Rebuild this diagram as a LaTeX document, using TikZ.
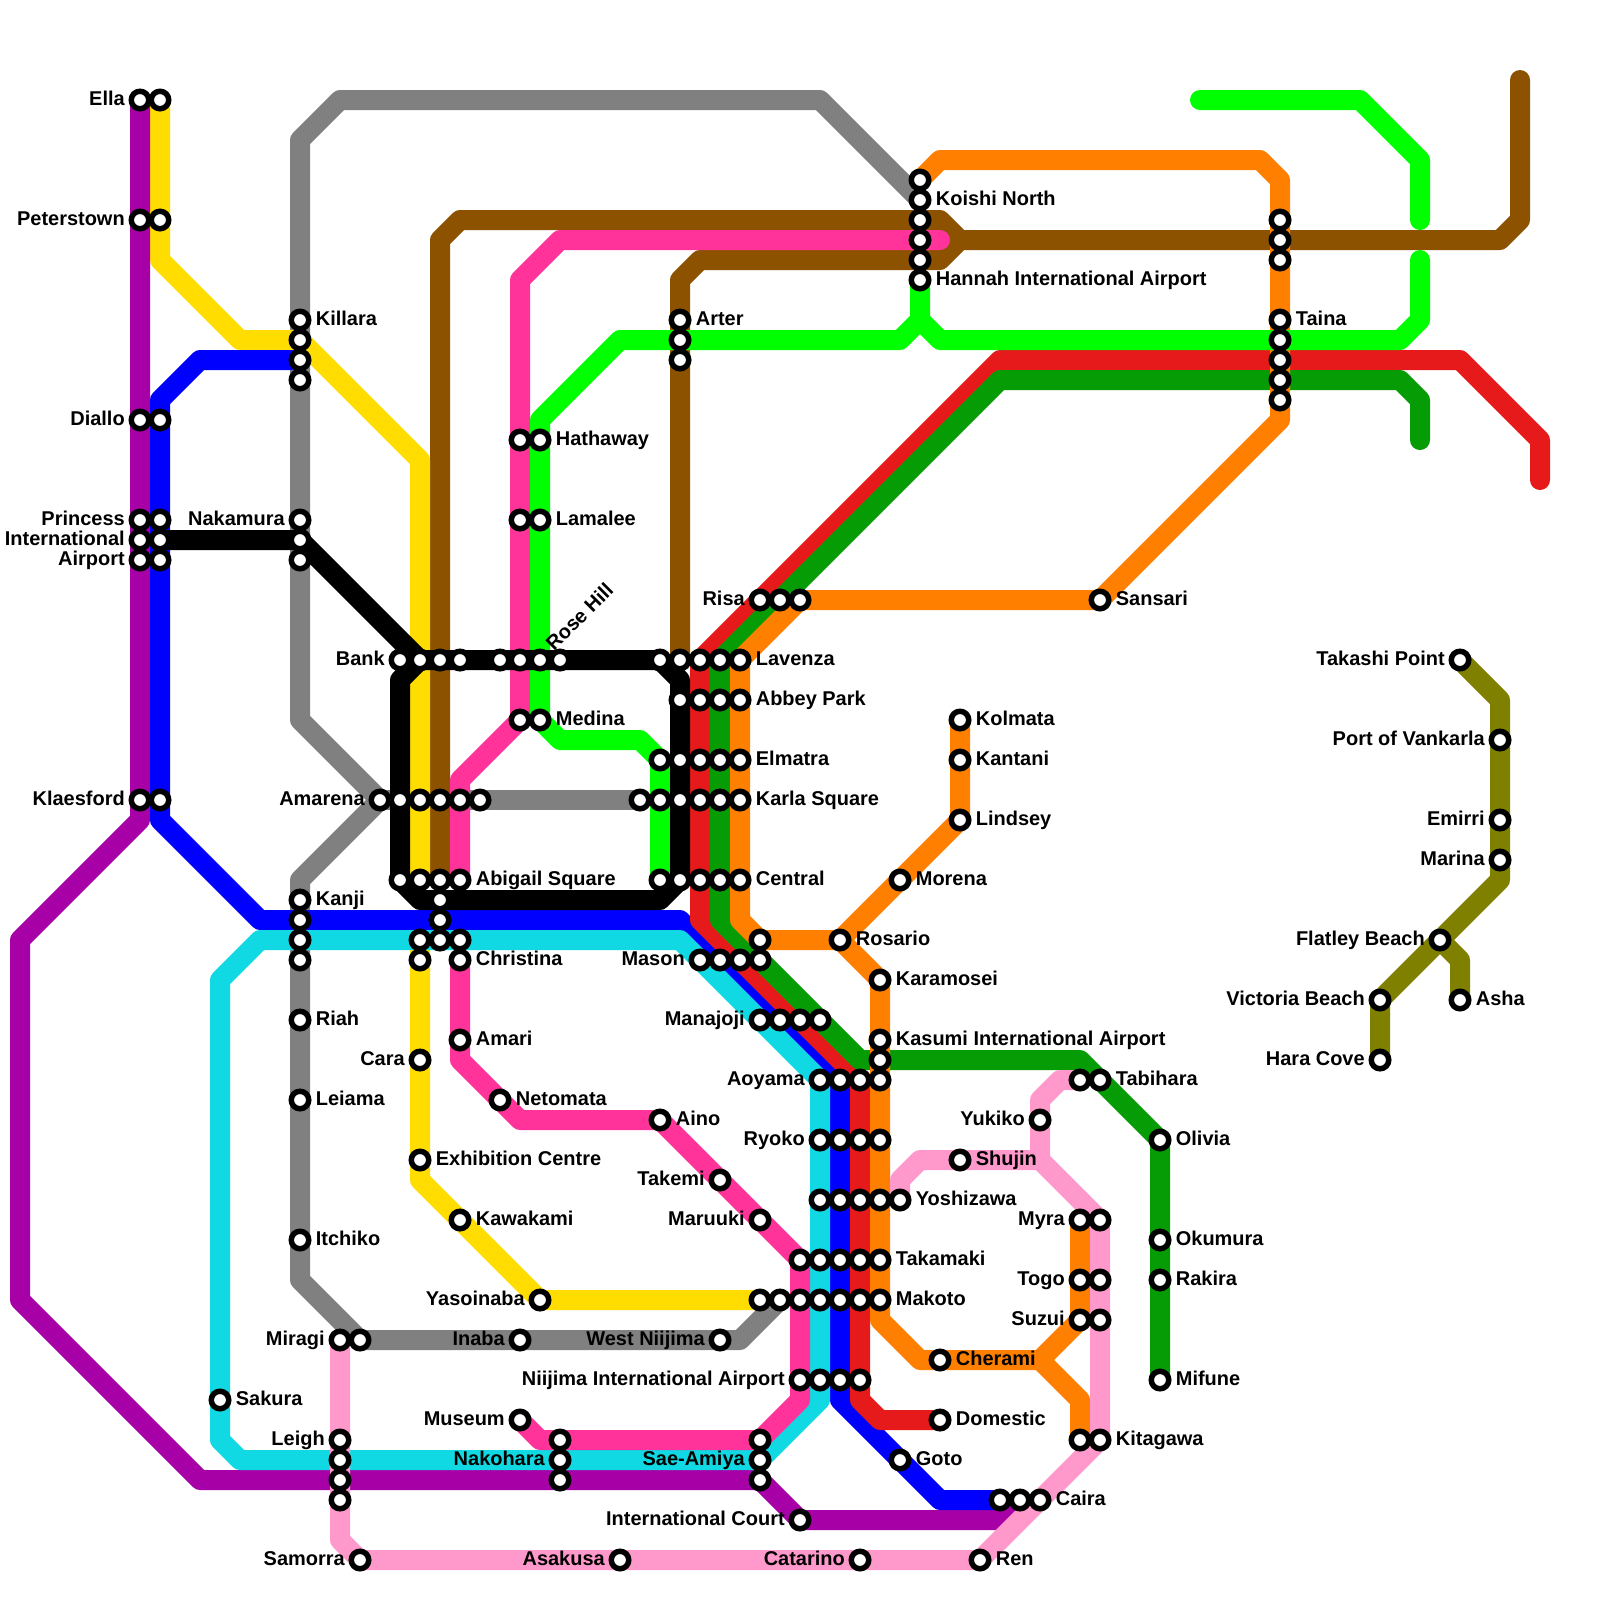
\documentclass[tikz,border=0pt]{standalone}
\usepackage{fontspec}
\setmainfont{Liberation Sans}
\usetikzlibrary{backgrounds}
\definecolor{cPurple}{HTML}{A600A6}
\definecolor{cYellow}{HTML}{FFDD00}
\definecolor{cBlue}{HTML}{0000FF}
\definecolor{cGrey}{HTML}{808080}
\definecolor{cCyan}{HTML}{11D9E3}
\definecolor{cMagenta}{HTML}{FF3399}
\definecolor{cBrown}{HTML}{8C5200}
\definecolor{cGreen}{HTML}{00FF00}
\definecolor{cOrange}{HTML}{FF8000}
\definecolor{cRed}{HTML}{E61A1A}
\definecolor{cDark}{HTML}{059C05}
\definecolor{cLight}{HTML}{FF99CC}
\definecolor{cOlive}{HTML}{808000}
\tikzset{
  metro/.style={line width=0.5cm,line cap=round,line join=round},
  stn/.style={circle,draw=black,fill=white,line width=3.9pt,inner sep=0pt,minimum size=12.45pt},
  lab/.style={font=\fontsize{14.2pt}{16pt}\selectfont\bfseries,inner sep=0pt,text=black}
}
\begin{document}
\begin{tikzpicture}[x=0.5cm,y=-0.5cm]
\useasboundingbox (0,0) rectangle (80,80);
% bend points and free ends
\foreach \x/\y in {7/41,1/47,1/65,10/74,50/76,8/13,12/17,15/17,21/23,21/59,10/18,8/20,8/41,13/46,34/46,42/54,42/70,47/75,
 41/5,17/5,15/7,15/36,19/40,15/44,15/64,18/67,37/67,34/47,13/47,11/49,11/72,12/73,38/73,41/70,41/54,
 23/39,23/53,26/56,33/56,40/63,40/70,27/72,38/72,26/36,26/14,28/12,47/12,22/44,22/12,23/11,47/11,48/12,75/12,76/11,76/4,47/13,35/13,34/14,34/33,
 21/33,33/45,21/45,34/44,34/34,20/34,20/44,20/32,15/27,60/5,68/5,71/8,71/11,71/13,71/16,70/17,47/17,46/16,45/17,31/17,27/21,28/37,32/37,33/38,
 47/8,63/8,64/9,64/21,40/30,37/33,37/46,38/47,44/49,44/66,46/68,52/68,54/66,54/70,77/24,77/22,73/18,50/18,35/33,35/46,43/54,43/70,44/71,
 71/22,71/20,70/19,50/19,36/33,36/46,43/53,54/53,58/57,17/77,18/78,49/78,55/72,52/58,46/58,45/59,52/55,53/54,17/67,
 75/35,75/44,73/48}
  {\coordinate (c\x-\y) at (\x,\y);}
% stations with no label
\foreach \x/\y in {8/5,8/11,8/21,8/26,8/27,8/28,8/40,15/17,15/18,15/19,15/27,15/28,15/46,15/47,15/48,17/73,17/74,17/75,18/67,
 20/40,20/44,21/33,21/40,21/44,21/47,21/48,22/33,22/40,22/44,22/45,22/46,22/47,23/33,23/40,23/47,24/40,25/33,26/22,26/26,26/33,26/36,28/33,28/72,28/74,
 32/40,33/33,33/38,33/40,33/44,34/17,34/18,34/33,34/35,34/38,34/40,34/44,35/33,35/35,35/38,35/40,35/44,36/33,36/35,36/38,36/40,36/44,36/48,37/48,
 38/47,38/48,38/65,38/72,38/74,39/30,39/51,39/65,40/30,40/51,40/63,40/65,41/51,41/60,41/63,41/65,41/69,42/54,42/57,42/60,42/63,42/65,42/69,
 43/54,43/57,43/60,43/63,43/65,43/69,44/53,44/54,44/57,44/60,46/9,46/11,46/12,46/13,50/75,51/75,54/54,54/72,55/61,55/64,55/66,
 64/11,64/12,64/13,64/17,64/18,64/19,64/20}
  {\node[stn] (s\x-\y) at (\x,\y) {};}
% stations labelled on the left
\foreach \x/\y/\t in {7/5/Ella,7/11/Peterstown,7/21/Diallo,7/26/Princess,7/27/International,7/28/Airport,7/40/Klaesford,15/26/Nakamura,17/67/Miragi,17/72/Leigh,18/78/Samorra,
 19/40/Amarena,20/33/Bank,21/53/Cara,26/67/Inaba,26/71/Museum,27/65/Yasoinaba,28/73/Nakohara,31/78/Asakusa,35/48/Mason,36/59/Takemi,36/67/West Niijima,
 38/30/Risa,38/51/Manajoji,38/61/Maruuki,38/73/Sae-Amiya,40/69/Niijima International Airport,40/76/International Court,41/54/Aoyama,41/57/Ryoko,43/78/Catarino,
 52/56/Yukiko,54/61/Myra,54/64/Togo,54/66/Suzui,69/50/Victoria Beach,69/53/Hara Cove,72/47/Flatley Beach,73/33/Takashi Point,75/37/Port of Vankarla,75/41/Emirri,75/43/Marina}
  {\node[stn] (s\x-\y) at (\x,\y) {};
   \node[lab,anchor=base east] (t\x-\y) at (\x-0.75,\y+0.27) {\t};}
% stations labelled on the right
\foreach \x/\y/\t in {15/16/Killara,15/45/Kanji,15/51/Riah,15/55/Leiama,15/62/Itchiko,11/70/Sakura,21/58/Exhibition Centre,23/44/Abigail Square,23/48/Christina,23/52/Amari,23/61/Kawakami,
 25/55/Netomata,27/22/Hathaway,27/26/Lamalee,27/36/Medina,33/56/Aino,34/16/Arter,37/33/Lavenza,37/35/Abbey Park,37/38/Elmatra,37/40/Karla Square,37/44/Central,42/47/Rosario,
 44/49/Karamosei,44/52/Kasumi International Airport,44/63/Takamaki,44/65/Makoto,45/44/Morena,45/60/Yoshizawa,45/73/Goto,46/10/Koishi North,46/14/Hannah International Airport,
 47/68/Cherami,47/71/Domestic,48/36/Kolmata,48/38/Kantani,48/41/Lindsey,48/58/Shujin,49/78/Ren,52/75/Caira,55/30/Sansari,55/54/Tabihara,55/72/Kitagawa,58/57/Olivia,58/62/Okumura,58/64/Rakira,58/69/Mifune,
 64/16/Taina,73/50/Asha}
  {\node[stn] (s\x-\y) at (\x,\y) {};
   \node[lab,anchor=base west] (t\x-\y) at (\x+0.78,\y+0.27) {\t};}
% rotated label
\node[stn] (s27-33) at (27,33) {};
\node[lab,anchor=base west,rotate=45] (t27-33) at (27.7,32.6) {Rose Hill};
\begin{scope}[on background layer]
\fill[white] (0,0) rectangle (80,80);
% grey
\draw[metro,cGrey] (s46-10.center)--(c41-5)--(c17-5)--(c15-7)--(c15-36)--(c19-40)--(c15-44)--(c15-64)--(c18-67)--(c37-67)--(s39-65.center);
\draw[metro,cGrey] (c19-40)--(s32-40.center);
% brown
\draw[metro,cBrown] (c76-4)--(c76-11)--(c75-12)--(c48-12)--(c47-11)--(c23-11)--(c22-12)--(c22-44);
\draw[metro,cBrown] (c48-12)--(c47-13)--(c35-13)--(c34-14)--(c34-33);
% yellow
\draw[metro,cYellow] (s8-5.center)--(c8-13)--(c12-17)--(c15-17)--(c21-23)--(s21-44.center);
\draw[metro,cYellow] (s21-47.center)--(c21-59)--(s27-65.center)--(s38-65.center);
% purple
\draw[metro,cPurple] (s7-5.center)--(c7-41)--(c1-47)--(c1-65)--(c10-74)--(s38-74.center)--(s40-76.center)--(c50-76)--(s51-75.center);
% blue
\draw[metro,cBlue] (s15-18.center)--(c10-18)--(c8-20)--(c8-41)--(c13-46)--(c34-46)--(c42-54)--(c42-70)--(c47-75)--(s50-75.center);
% cyan
\draw[metro,cCyan] (c41-54)--(c41-70)--(c38-73)--(c12-73)--(c11-72)--(c11-49)--(c13-47)--(c34-47)--cycle;
% magenta
\draw[metro,cMagenta] (c47-12)--(c28-12)--(c26-14)--(c26-36)--(c23-39)--(s23-44.center);
\draw[metro,cMagenta] (s23-48.center)--(c23-53)--(c26-56)--(c33-56)--(c40-63)--(c40-70)--(c38-72)--(c27-72)--(s26-71.center);
% red
\draw[metro,cRed] (c77-24)--(c77-22)--(c73-18)--(c50-18)--(c35-33)--(c35-46)--(c43-54)--(c43-70)--(c44-71)--(s47-71.center);
% dark green
\draw[metro,cDark] (c71-22)--(c71-20)--(c70-19)--(c50-19)--(c36-33)--(c36-46)--(c43-53)--(c54-53)--(c58-57)--(s58-69.center);
% orange
\draw[metro,cOrange] (s48-36.center)--(s48-41.center)--(s42-47.center)--(c38-47)--(c37-46)--(c37-33)--(c40-30)--(s55-30.center)--(c64-21)--(c64-9)--(c63-8)--(c47-8)--(s46-9.center);
\draw[metro,cOrange] (s42-47.center)--(c44-49)--(c44-66)--(c46-68)--(c52-68)--(c54-66)--(s54-61.center);
\draw[metro,cOrange] (c52-68)--(c54-70)--(s54-72.center);
% light pink
\draw[metro,cLight] (c17-67)--(c17-77)--(c18-78)--(c49-78)--(c55-72)--(s55-61.center)--(c52-58)--(c46-58)--(c45-59)--(s45-60.center);
\draw[metro,cLight] (c52-58)--(c52-55)--(c53-54)--(s54-54.center);
% bright green
\draw[metro,cGreen] (c60-5)--(c68-5)--(c71-8)--(c71-11);
\draw[metro,cGreen] (c71-13)--(c71-16)--(c70-17)--(c47-17)--(c46-16)--(s46-14.center);
\draw[metro,cGreen] (c46-16)--(c45-17)--(c31-17)--(c27-21)--(s27-36.center)--(c28-37)--(c32-37)--(c33-38)--(s33-44.center);
% black
\draw[metro,black] (s8-27.center)--(c15-27)--(c21-33)--(s33-33.center)--(c34-34)--(c34-44)--(c33-45)--(c21-45)--(c20-44)--(c20-34)--(c21-33);
% olive
\draw[metro,cOlive] (s73-33.center)--(c75-35)--(c75-44)--(s69-50.center)--(s69-53.center);
\draw[metro,cOlive] (s72-47.center)--(c73-48)--(s73-50.center);
\end{scope}
\end{tikzpicture}
\end{document}
